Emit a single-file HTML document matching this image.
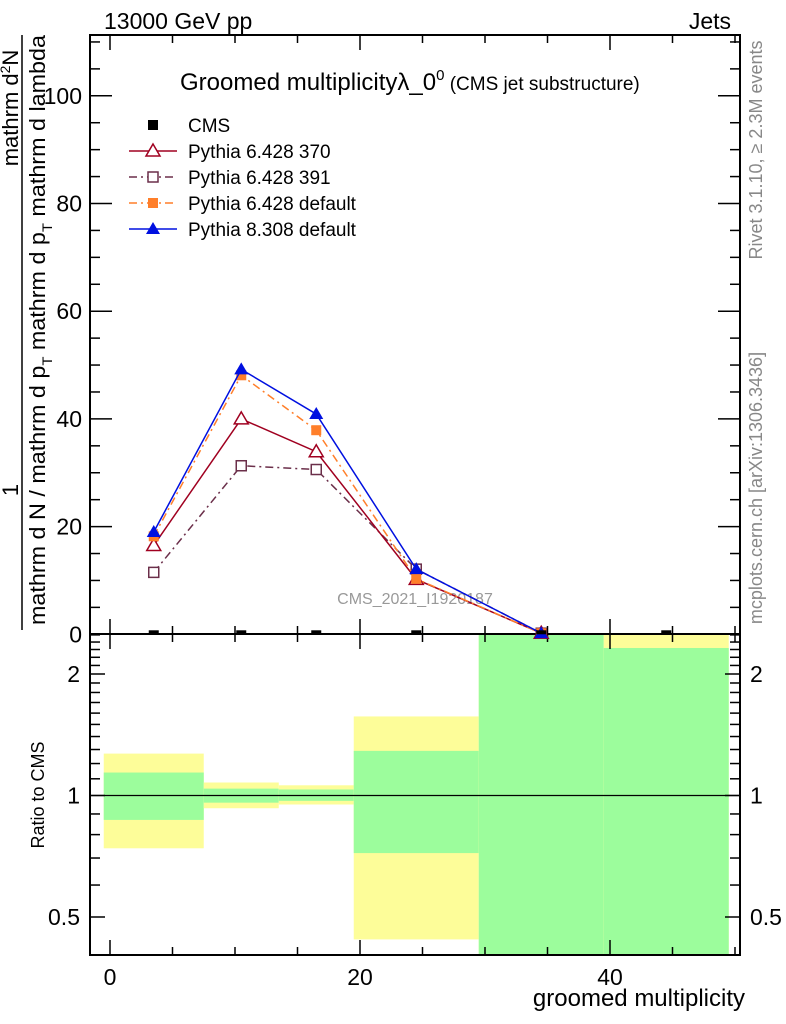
<!DOCTYPE html>
<html><head><meta charset="utf-8"><style>
html,body{margin:0;padding:0;background:#fff;}
svg{display:block;font-family:"Liberation Sans",Arial,sans-serif;}
</style></head><body>
<svg id="chart" width="786" height="1024" viewBox="0 0 786 1024" xmlns="http://www.w3.org/2000/svg">
<text x="104" y="29" font-size="23">13000 GeV pp</text>
<text x="731" y="29" font-size="23" text-anchor="end">Jets</text>
<text x="180" y="90" font-size="24">Groomed multiplicityλ_0<tspan font-size="15" dy="-10">0</tspan><tspan font-size="19" dy="10"> (CMS jet substructure)</tspan></text>
<g id="ylab">
<line x1="22" y1="35" x2="22" y2="630" stroke="#000" stroke-width="1.5"/>
<text transform="translate(18,490) rotate(-90)" font-size="22" text-anchor="middle">1</text>
<text transform="translate(18,108) rotate(-90)" font-size="22" text-anchor="middle">mathrm d<tspan font-size="14" dy="-8">2</tspan><tspan dy="8">N</tspan></text>
<text transform="translate(45,330) rotate(-90)" font-size="22" text-anchor="middle" textLength="590" lengthAdjust="spacingAndGlyphs">mathrm d N / mathrm d p<tspan font-size="14" dy="7">T</tspan><tspan dy="-7"> mathrm d p</tspan><tspan font-size="14" dy="7">T</tspan><tspan dy="-7"> mathrm d lambda</tspan></text>
</g>
<text transform="translate(44,795) rotate(-90)" font-size="18" text-anchor="middle">Ratio to CMS</text>
<text transform="translate(762,150) rotate(-90)" font-size="18" fill="#888" text-anchor="middle">Rivet 3.1.10, ≥ 2.3M events</text>
<text transform="translate(762,488) rotate(-90)" font-size="18" fill="#888" text-anchor="middle">mcplots.cern.ch [arXiv:1306.3436]</text>
<text x="745" y="1006" font-size="24" text-anchor="end">groomed multiplicity</text>
<text x="415" y="604" font-size="16" fill="#999" text-anchor="middle">CMS_2021_I1920187</text>
<g id="bands"></g>
<g id="axes"></g>
<g id="series"></g>
<g id="legend"></g>
</svg>
<script>
const centers=[3.5,10.5,16.5,24.5,34.5,44.5];
const edges=[-0.5,7.5,13.5,19.5,29.5,39.5,49.5];
const cms=[0,0,0,0,0,0];
const p370=[16.5,40.0,33.9,10.2,0.2];
const p391=[11.5,31.3,30.6,12.1,0.2];
const p6def=[18.2,48.1,37.9,10.3,0.2];
const p8=[19.0,49.2,40.9,12.1,0.2];
const yelLo=[0.74,0.93,0.95,0.44,0.3,0.3];
const yelHi=[1.27,1.077,1.06,1.57,3,3];
const grnLo=[0.87,0.96,0.97,0.72,0.3,0.3];
const grnHi=[1.14,1.04,1.035,1.29,3,2.32];
const yTicks=[0,20,40,60,80,100];
const xTicks=[0,20,40];
const rTicks=[0.5,1,2];

const NS="http://www.w3.org/2000/svg";
const L=90,R=740,T=35,B=634,RB=955;
const X=v=>110+12.5*v;
const Y=v=>634.3-5.385*v;
const RY=v=>795.5-121.5*Math.log2(v);
function mk(p,tag,at){const e=document.createElementNS(NS,tag);for(const k in at)e.setAttribute(k,at[k]);p.appendChild(e);return e;}
const bands=document.getElementById('bands'),axes=document.getElementById('axes'),ser=document.getElementById('series'),leg=document.getElementById('legend');
const clipY=v=>Math.max(B,Math.min(RB,v));
for(let i=0;i<6;i++){
 const x1=X(edges[i]),x2=X(edges[i+1]);
 let e=mk(bands,'rect',{x:x1,y:clipY(RY(yelHi[i])),width:x2-x1,height:clipY(RY(yelLo[i]))-clipY(RY(yelHi[i])),fill:'#fdfd99'});
 
 
 e=mk(bands,'rect',{x:x1,y:clipY(RY(grnHi[i])),width:x2-x1,height:clipY(RY(grnLo[i]))-clipY(RY(grnHi[i])),fill:'#9cfd9c'});
 
 
}
mk(axes,'line',{x1:L,y1:RY(1),x2:R,y2:RY(1),stroke:'#000','stroke-width':1.2});
let fr=mk(axes,'rect',{x:L,y:T,width:R-L,height:B-T,fill:'none',stroke:'#000','stroke-width':2});


fr=mk(axes,'rect',{x:L,y:B,width:R-L,height:RB-B,fill:'none',stroke:'#000','stroke-width':2});


for(let v=0;v<=50;v+=5){const x=X(v),maj=v%20==0,len=maj?15:8;
 for(const [y0,d] of [[T,1],[B,-1],[B,1],[RB,-1]]) mk(axes,'line',{x1:x,y1:y0,x2:x,y2:y0+d*len,stroke:'#000','stroke-width':1.5});}
xTicks.forEach(v=>{const t=mk(axes,'text',{x:X(v),y:985,'font-size':23,'text-anchor':'middle'});t.textContent=v;
 
 });
for(let v=0;v<=110;v+=5){const y=Y(v),len=v%20==0?22:10;
 mk(axes,'line',{x1:L,y1:y,x2:L+len,y2:y,stroke:'#000','stroke-width':1.5});
 mk(axes,'line',{x1:R,y1:y,x2:R-len,y2:y,stroke:'#000','stroke-width':1.5});}
yTicks.forEach(v=>{const t=mk(axes,'text',{x:82,y:Y(v)+8,'font-size':23,'text-anchor':'end'});t.textContent=v;
 
 });
const rminor=[0.4,0.6,0.7,0.8,0.9,1.1,1.2,1.3,1.4,1.5,1.6,1.7,1.8,1.9,2.1,2.2,2.3,2.4,2.5];
rminor.forEach(v=>{const y=RY(v);if(y<B||y>RB)return;
 mk(axes,'line',{x1:L,y1:y,x2:L+10,y2:y,stroke:'#000','stroke-width':1.5});
 mk(axes,'line',{x1:R,y1:y,x2:R-10,y2:y,stroke:'#000','stroke-width':1.5});});
rTicks.forEach(v=>{const y=RY(v);
 mk(axes,'line',{x1:L,y1:y,x2:L+15,y2:y,stroke:'#000','stroke-width':1.5});
 mk(axes,'line',{x1:R,y1:y,x2:R-15,y2:y,stroke:'#000','stroke-width':1.5});
 let t=mk(axes,'text',{x:80,y:y+8,'font-size':23,'text-anchor':'end'});t.textContent=v;
 
 
 t=mk(axes,'text',{x:750,y:y+8,'font-size':23});t.textContent=v;
 
 });
function marker(g,type,x,y,col){
 if(type=='tri-open')return mk(g,'path',{d:`M${x},${y-7}L${x+7},${y+5}L${x-7},${y+5}Z`,fill:'#fff',stroke:col,'stroke-width':1.5});
 if(type=='tri')return mk(g,'path',{d:`M${x},${y-7}L${x+7},${y+5}L${x-7},${y+5}Z`,fill:col});
 if(type=='sq-open')return mk(g,'rect',{x:x-5,y:y-5,width:10,height:10,fill:'#fff',stroke:col,'stroke-width':1.5});
 return mk(g,'rect',{x:x-5,y:y-5,width:10,height:10,fill:col});
}
const series=[
 {d:p391,col:'#6b2f4a',dash:'8,4,2,4',m:'sq-open',name:'Pythia 6.428 391'},
 {d:p370,col:'#a00020',dash:'',m:'tri-open',name:'Pythia 6.428 370'},
 {d:p6def,col:'#ff7f2a',dash:'8,4,2,4',m:'sq',name:'Pythia 6.428 default'},
 {d:p8,col:'#0010e0',dash:'',m:'tri',name:'Pythia 8.308 default'}];
series.forEach(s=>{
 const g=mk(ser,'g',{});
 
 
 const pts=s.d.map((v,i)=>X(centers[i])+','+Y(v)).join(' ');
 mk(g,'polyline',{points:pts,fill:'none',stroke:s.col,'stroke-width':1.5,'stroke-dasharray':s.dash});
 s.d.forEach((v,i)=>{const m=marker(g,s.m,X(centers[i]),Y(v),s.col);
  
  });
});
cms.forEach((v,i)=>{const m=mk(ser,'rect',{x:X(centers[i])-5,y:Y(v)-4,width:10,height:4,fill:'#000'});
 
 });
const legItems=[{name:'CMS',col:'#000',m:'sq',dash:null},
 {name:'Pythia 6.428 370',col:'#a00020',m:'tri-open',dash:''},
 {name:'Pythia 6.428 391',col:'#6b2f4a',m:'sq-open',dash:'8,4,2,4'},
 {name:'Pythia 6.428 default',col:'#ff7f2a',m:'sq',dash:'8,4,2,4'},
 {name:'Pythia 8.308 default',col:'#0010e0',m:'tri',dash:''}];
legItems.forEach((it,i)=>{const y=125+26*i;
 const g=mk(leg,'g',{});
 
 
 if(it.dash!==null)mk(g,'line',{x1:129,y1:y,x2:177,y2:y,stroke:it.col,'stroke-width':1.5,'stroke-dasharray':it.dash});
 marker(g,it.m,153,y,it.col);
 const t=mk(g,'text',{x:188,y:y+7,'font-size':19});t.textContent=it.name;});
</script>
</body></html>
